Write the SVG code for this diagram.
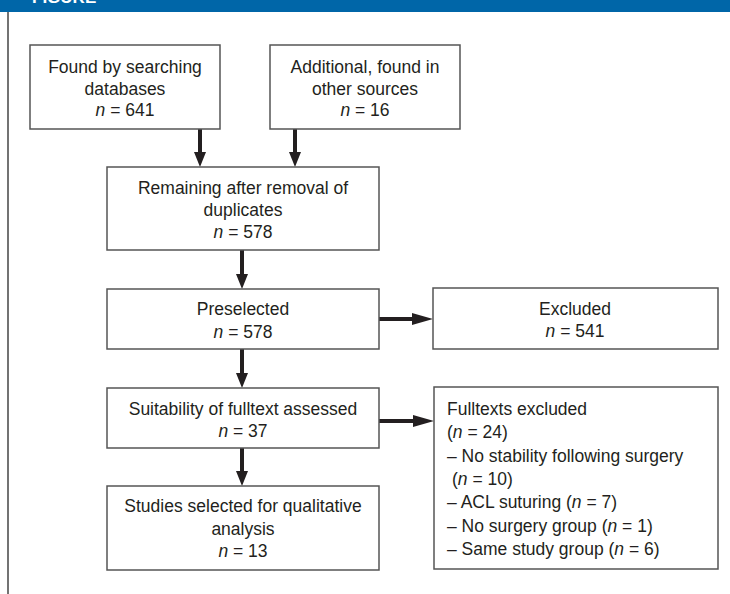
<svg xmlns="http://www.w3.org/2000/svg" width="730" height="594" viewBox="0 0 730 594">
<defs>
<style>
.box{fill:#fff;stroke:#555;stroke-width:1.5}
.t{font-family:"Liberation Sans",Arial,sans-serif;font-size:17.5px;fill:#231f20}
.c{text-anchor:middle}
.i{font-style:italic}
.arr{stroke:#231f20;stroke-width:4;fill:none}
.hd{fill:#231f20}
</style>
</defs>
<rect x="0" y="0" width="730" height="12" fill="#0066a8"/>
<text x="32" y="3" font-family="Liberation Sans,Arial,sans-serif" font-weight="bold" font-size="17px" fill="#fff">FIGURE</text>
<line x1="8" y1="12" x2="8" y2="594" stroke="#444" stroke-width="1.5"/>

<g id="connectors">
<line class="arr" x1="200" y1="129" x2="200" y2="154"/><polygon class="hd" points="194,152 206,152 200,167"/>
<line class="arr" x1="295" y1="129" x2="295" y2="154"/><polygon class="hd" points="289,152 301,152 295,167"/>
<line class="arr" x1="242" y1="250" x2="242" y2="276"/><polygon class="hd" points="236,274 248,274 242,289"/>
<line class="arr" x1="242" y1="349" x2="242" y2="375"/><polygon class="hd" points="236,373 248,373 242,388"/>
<line class="arr" x1="242" y1="448" x2="242" y2="473"/><polygon class="hd" points="236,471 248,471 242,486"/>
<line class="arr" x1="379" y1="319" x2="420" y2="319"/><polygon class="hd" points="412,313 433,319 412,325"/>
<line class="arr" x1="379" y1="421" x2="421" y2="421"/><polygon class="hd" points="413,415 434,421 413,427"/>
</g>

<g id="found">
<rect class="box" x="30" y="45" width="190" height="84"/>
<text class="t c" x="125" y="73">Found by searching</text>
<text class="t c" x="125" y="95">databases</text>
<text class="t c" x="125" y="116"><tspan class="i">n</tspan> = 641</text>
</g>
<g id="additional">
<rect class="box" x="270" y="45" width="190" height="84"/>
<text class="t c" x="365" y="73">Additional, found in</text>
<text class="t c" x="365" y="95">other sources</text>
<text class="t c" x="365" y="116"><tspan class="i">n</tspan> = 16</text>
</g>
<g id="remaining">
<rect class="box" x="107" y="167" width="272" height="83"/>
<text class="t c" x="243" y="194">Remaining after removal of</text>
<text class="t c" x="243" y="216">duplicates</text>
<text class="t c" x="243" y="238"><tspan class="i">n</tspan> = 578</text>
</g>
<g id="preselected">
<rect class="box" x="107" y="289" width="272" height="60"/>
<text class="t c" x="243" y="315">Preselected</text>
<text class="t c" x="243" y="338"><tspan class="i">n</tspan> = 578</text>
</g>
<g id="excluded">
<rect class="box" x="433" y="288" width="285" height="61"/>
<text class="t c" x="575" y="315">Excluded</text>
<text class="t c" x="575" y="337"><tspan class="i">n</tspan> = 541</text>
</g>
<g id="suitability">
<rect class="box" x="107" y="388" width="272" height="60"/>
<text class="t c" x="243" y="415">Suitability of fulltext assessed</text>
<text class="t c" x="243" y="437"><tspan class="i">n</tspan> = 37</text>
</g>
<g id="studies">
<rect class="box" x="107" y="486" width="272" height="84"/>
<text class="t c" x="243" y="512">Studies selected for qualitative</text>
<text class="t c" x="243" y="535">analysis</text>
<text class="t c" x="243" y="557"><tspan class="i">n</tspan> = 13</text>
</g>
<g id="fulltexts">
<rect class="box" x="434" y="387" width="284" height="182"/>
<text class="t" x="447" y="415">Fulltexts excluded</text>
<text class="t" x="447" y="438">(<tspan class="i">n</tspan> = 24)</text>
<text class="t" x="447" y="462">– No stability following surgery</text>
<text class="t" x="452" y="485">(<tspan class="i">n</tspan> = 10)</text>
<text class="t" x="447" y="508">– ACL suturing (<tspan class="i">n</tspan> = 7)</text>
<text class="t" x="447" y="532">– No surgery group (<tspan class="i">n</tspan> = 1)</text>
<text class="t" x="447" y="555">– Same study group (<tspan class="i">n</tspan> = 6)</text>
</g>
</svg>
